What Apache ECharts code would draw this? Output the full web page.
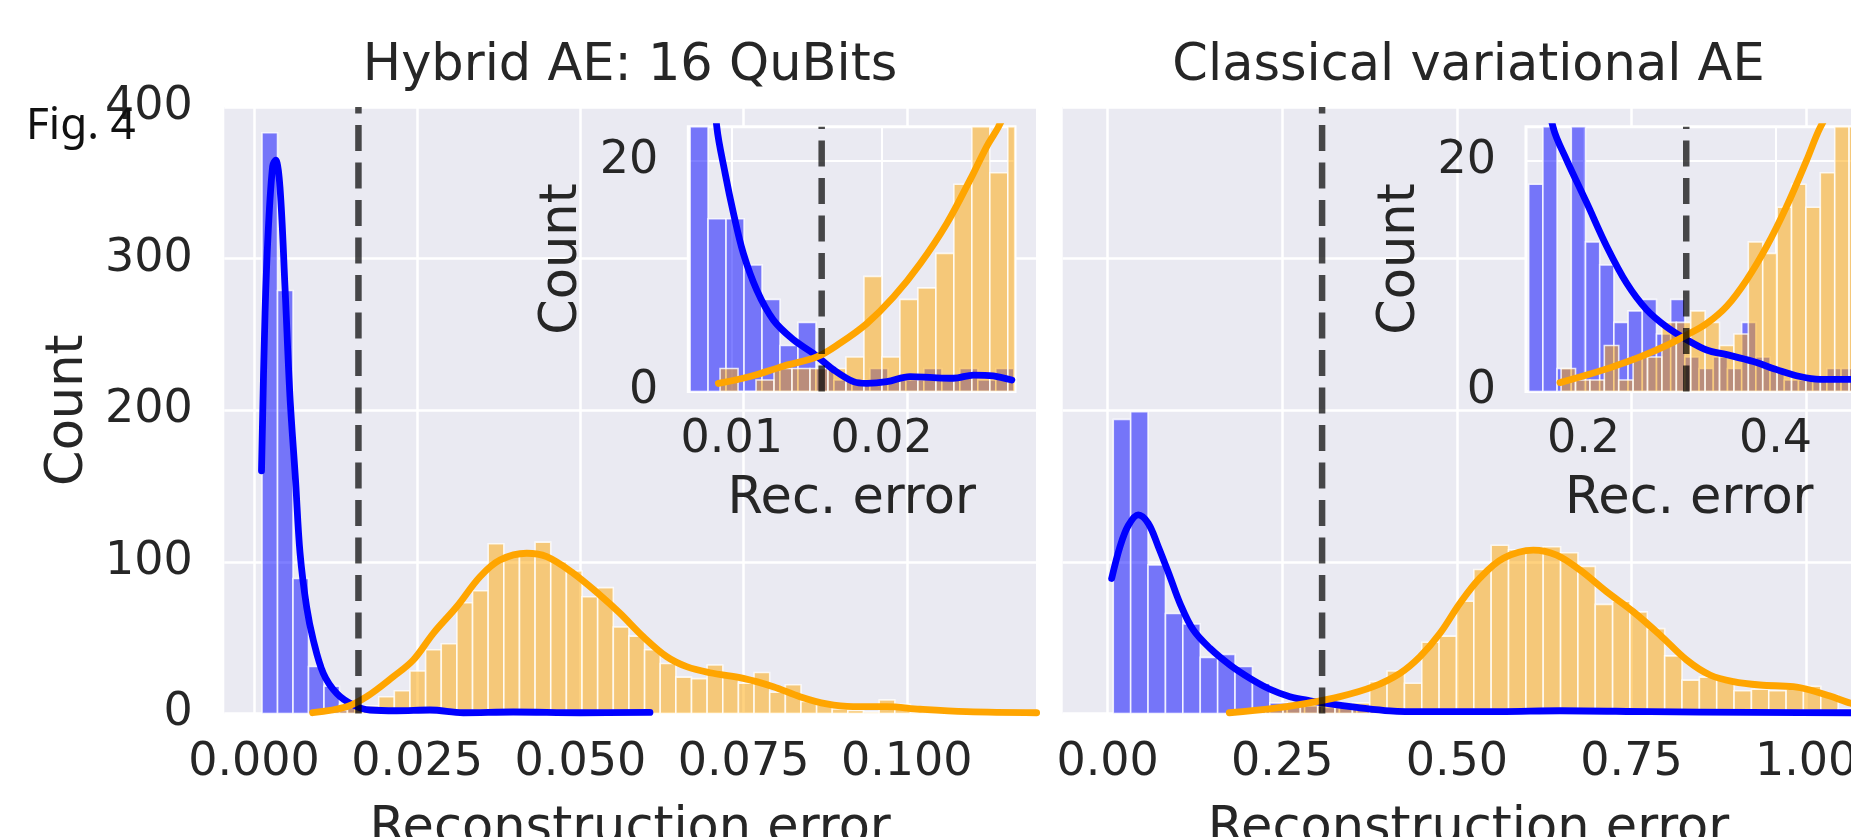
<!DOCTYPE html>
<html>
<head>
<meta charset="utf-8">
<script src="https://cdn.jsdelivr.net/npm/echarts@6.0.0/dist/echarts.min.js"></script>
<style>
  html, body { margin: 0; padding: 0; background: #fff; }
  #chart { width: 1851px; height: 837px; }
</style>
</head>
<body>
<div id="chart"></div>
<script>
// ---- data ----
// left panel: Hybrid AE, 16 QuBits
const hybridNormalStart = 0.00123, hybridNormalWidth = 0.002374;
const hybridNormalCounts = [383, 279, 89, 31, 18, 6, 3, 2, 3, 2, 2, 3, 2, 2, 1, 2, 1, 1, 2, 1, 1, 1, 0, 1, 1];
const hybridAnomStart = 0.00952, hybridAnomWidth = 0.002396;
const hybridAnomCounts = [2, 2, 4, 5, 11, 15, 28, 42, 46, 73, 81, 112, 104, 105, 113, 100, 94, 77, 83, 57, 51,
  42, 33, 24, 23, 32, 24, 20, 27, 14, 19, 8, 6, 3, 2, 1, 9, 6, 1, 1, 0, 0, 0, 1];
const hybridNormalKde = [[0.00115, 160], [0.00169, 264], [0.00219, 319], [0.00286, 361], [0.00332, 365],
  [0.00398, 347], [0.00475, 281], [0.00551, 209], [0.00636, 154], [0.00705, 106], [0.00807, 70],
  [0.00908, 48.5], [0.01062, 26.5], [0.01267, 13.3], [0.01521, 5.6], [0.01777, 2.3], [0.02186, 1.8],
  [0.02696, 2.3], [0.03206, 0.5], [0.03972, 1.0], [0.04994, 0.5], [0.06066, 0.7]];
const hybridAnomKde = [[0.00899, 0.5], [0.0142, 4.5], [0.01726, 11.1], [0.02134, 24.3], [0.0244, 35.3],
  [0.02747, 52.9], [0.03105, 70.4], [0.03462, 90.2], [0.03768, 101.2], [0.04177, 105.7], [0.04484, 103.4],
  [0.04891, 92.5], [0.053, 78.1], [0.05607, 66.1], [0.05964, 50.6], [0.06322, 37.5], [0.06628, 30.9],
  [0.06985, 26.9], [0.07496, 23.2], [0.07955, 17.7], [0.08364, 11.1], [0.08773, 6.3], [0.09181, 4.5],
  [0.09692, 4.5], [0.10202, 2.8], [0.10918, 1.2], [0.1199, 0.5]];
const hybridThreshold = 0.016;

// left inset
const hybridInsetNormalStart = 0.00722, hybridInsetNormalWidth = 0.0012;
const hybridInsetNormalCounts = [40, 15, 15, 11, 8, 4, 6, 2, 1, 1, 2, 1, 1, 2, 1, 2, 1, 2];
const hybridInsetAnomStart = 0.00922, hybridInsetAnomWidth = 0.0012;
const hybridInsetAnomCounts = [2, 0, 1, 2, 2, 2, 2, 3, 10, 3, 8, 9, 12, 18, 30, 19, 30];
const hybridInsetNormalKde = [[0.0078, 40], [0.009, 23], [0.00955, 19], [0.01011, 15.5], [0.01077, 12],
  [0.01167, 8.8], [0.01278, 6.2], [0.01411, 4.5], [0.01545, 3.3], [0.01678, 1.9], [0.01812, 0.85],
  [0.01901, 0.7], [0.02035, 0.85], [0.0219, 1.3], [0.02346, 1.2], [0.02479, 1.15], [0.02613, 1.43],
  [0.02746, 1.35], [0.02869, 1.0]];
const hybridInsetAnomKde = [[0.00911, 0.7], [0.01122, 1.3], [0.01344, 2.2], [0.01567, 3.0], [0.01723, 4.2],
  [0.01901, 5.9], [0.02079, 8.2], [0.02257, 11.1], [0.02435, 14.6], [0.02591, 18.4], [0.02702, 21.3],
  [0.0278, 23], [0.0289, 26]];

// right panel: Classical variational AE
const classicalNormalStart = 0.008, classicalNormalWidth = 0.02491;
const classicalNormalCounts = [194, 199, 98, 66, 59, 37, 39, 31, 20, 7, 6, 5, 4, 4, 3, 3, 2, 2, 2, 1, 2, 1,
  1, 1, 1, 1, 1, 1, 1, 1, 1, 0, 1, 1, 1, 0, 1, 1, 1, 0, 1, 1, 1, 1];
const classicalAnomStart = 0.1765, classicalAnomWidth = 0.02484;
const classicalAnomCounts = [2, 3, 4, 5, 6, 5, 6, 7, 21, 28, 20, 47, 51, 74, 95, 111, 108, 108, 110, 106, 97,
  72, 74, 67, 56, 38, 22, 24, 22, 15, 16, 15, 16, 18, 12, 3, 2, 1];
const classicalNormalKde = [[0.0057, 89], [0.0176, 110], [0.0295, 124], [0.0438, 131], [0.0581, 125.4],
  [0.0725, 110], [0.0892, 90.2], [0.1035, 72.7], [0.1226, 55.1], [0.1465, 43], [0.1751, 32], [0.2038, 23.2],
  [0.2324, 16], [0.261, 11.1], [0.2897, 8.4], [0.3183, 6.3], [0.3565, 4.1], [0.4042, 1.8], [0.4519, 1.2],
  [0.5617, 1.2], [0.6476, 1.8], [0.7765, 1.2], [0.9197, 0.7], [1.0643, 0.5], [1.0978, 0.5]];
const classicalAnomKde = [[0.1741, 0.5], [0.2371, 3.4], [0.2849, 6.7], [0.3326, 11.1], [0.3803, 17.7],
  [0.4185, 26.5], [0.4472, 37.5], [0.4758, 52.9], [0.5044, 72.7], [0.5331, 89.4], [0.5665, 102.4],
  [0.6094, 107.8], [0.6429, 104.5], [0.6763, 94.6], [0.7145, 80.3], [0.7526, 67.1], [0.7908, 51.8],
  [0.829, 35.3], [0.8624, 25.4], [0.8958, 21], [0.934, 18.8], [0.9817, 17.7], [1.0056, 15.5], [1.0342, 11.5],
  [1.0643, 6.7], [1.0972, 3]];
const classicalThreshold = 0.307;

// right inset
const classicalInsetNormalStart = 0.14292, classicalInsetNormalWidth = 0.01479;
const classicalInsetNormalCounts = [18, 26, 2, 25, 13, 11, 6, 7, 8, 5, 8, 3, 2, 3, 2, 6, 3, 2, 1, 1, 1, 2, 2];
const classicalInsetAnomStart = 0.17667, classicalInsetAnomWidth = 0.015;
const classicalInsetAnomCounts = [2, 1, 1, 4, 1, 3, 3, 6, 6, 7, 6, 4, 5, 13, 12, 16, 18, 16, 19, 26, 30];
const classicalInsetNormalKde = [[0.145, 32], [0.1685, 22.9], [0.1825, 20.1], [0.2033, 16.4], [0.2242, 12.6],
  [0.245, 9.4], [0.2658, 7.1], [0.2867, 5.6], [0.3075, 4.5], [0.3283, 3.6], [0.3492, 3.2], [0.3769, 2.6],
  [0.4013, 1.9], [0.4255, 1.3], [0.4464, 1.06], [0.4786, 1.06]];
const classicalInsetAnomKde = [[0.1755, 0.77], [0.2033, 1.43], [0.231, 2.16], [0.2589, 3.0], [0.2867, 4.0],
  [0.3075, 4.9], [0.3283, 5.9], [0.3492, 7.4], [0.37, 9.7], [0.3908, 12.6], [0.4117, 16.1], [0.4325, 20.1],
  [0.4464, 22.9], [0.4672, 26]];

// tick labels
const hybridTicks = [0, 0.025, 0.05, 0.075, 0.1];
const classicalTicks = [0, 0.25, 0.5, 0.75, 1.0];
const hybridInsetTicks = [0.01, 0.02];
const classicalInsetTicks = [0.2, 0.4];
const insetCountTicks = [0, 20];

// ---- styling ----
const FONT = 'DejaVu Sans';
const TEXT = '#262626';
const BG = '#EAEAF2';
const BLUE = '#0000FF', ORANGE = '#FFA500';
const BLUE_FILL = 'rgba(0,0,255,0.5)', ORANGE_FILL = 'rgba(255,165,0,0.5)';

const chart = echarts.init(document.getElementById('chart'));

function bins(start, width, counts) {
  return counts.map(function (c, i) { return [start + i * width, start + (i + 1) * width, c]; });
}

function histSeries(idx, data, fill, z) {
  return {
    type: 'custom', xAxisIndex: idx, yAxisIndex: idx, z: z, silent: true, data: data,
    renderItem: function (params, api) {
      const p0 = api.coord([api.value(0), 0]);
      const p1 = api.coord([api.value(1), api.value(2)]);
      const rect = echarts.graphic.clipRectByRect({
        x: p0[0], y: p1[1], width: p1[0] - p0[0], height: p0[1] - p1[1]
      }, params.coordSys);
      if (!rect) return;
      return { type: 'rect', shape: rect, style: { fill: fill, stroke: 'rgba(255,255,255,0.8)', lineWidth: 1.6 } };
    }
  };
}

function kdeSeries(idx, data, color, z) {
  return {
    type: 'line', xAxisIndex: idx, yAxisIndex: idx, z: z, data: data, smooth: 0.35,
    symbol: 'none', silent: true, clip: true,
    lineStyle: { color: color, width: 6.8, cap: 'round', join: 'round' }
  };
}

function thresholdSeries(idx, x, top, z) {
  return {
    type: 'line', xAxisIndex: idx, yAxisIndex: idx, z: z, data: [[x, 0], [x, top]],
    symbol: 'none', silent: true,
    lineStyle: { color: 'rgba(0,0,0,0.7)', width: 6.5, type: [26, 11.5] }
  };
}

function xAxisCfg(idx, min, max, ticks, digits, name, z, lineW, margin, gap) {
  return {
    type: 'value', gridIndex: idx, min: min, max: max, z: z,
    axisLine: { show: false },
    axisTick: { show: false, customValues: ticks },
    axisLabel: {
      customValues: ticks, margin: margin, fontSize: 46, color: TEXT, fontFamily: FONT,
      formatter: function (v) { return v.toFixed(digits); }
    },
    splitLine: { show: true, lineStyle: { color: '#fff', width: lineW } },
    name: name, nameLocation: 'middle', nameGap: gap, nameMoveOverlap: false,
    nameTextStyle: { fontSize: 51, color: TEXT, fontFamily: FONT }
  };
}

const labelStyle = { fontSize: 46, color: TEXT, fontFamily: FONT };

const option = {
  animation: false,
  backgroundColor: '#fff',
  grid: [
    { left: 224.3, top: 107, width: 811.7, height: 606.5, show: true, backgroundColor: BG, borderWidth: 0, outerBoundsMode: 'none' },
    { left: 1062.7, top: 107, width: 811.7, height: 606.5, show: true, backgroundColor: BG, borderWidth: 0, outerBoundsMode: 'none' },
    { left: 688.3, top: 126.7, width: 326.7, height: 264.8, show: true, backgroundColor: BG, borderColor: '#fff', borderWidth: 3, z: 10, outerBoundsMode: 'none' },
    { left: 1526, top: 126.7, width: 326.7, height: 264.8, show: true, backgroundColor: BG, borderColor: '#fff', borderWidth: 3, z: 10, outerBoundsMode: 'none' }
  ],
  xAxis: [
    xAxisCfg(0, -0.00455, 0.1198, hybridTicks, 3, 'Reconstruction error', 0, 2.5, 27, 91),
    xAxisCfg(1, -0.0644, 1.0978, classicalTicks, 2, 'Reconstruction error', 0, 2.5, 27, 91),
    xAxisCfg(2, 0.0071, 0.0289, hybridInsetTicks, 2, 'Rec. error', 11, 2, 25.5, 82.5),
    xAxisCfg(3, 0.1401, 0.4804, classicalInsetTicks, 1, 'Rec. error', 11, 2, 25.5, 82.5)
  ],
  yAxis: [
    {
      type: 'value', gridIndex: 0, min: 0, max: 400, interval: 100,
      axisLine: { show: false }, axisTick: { show: false },
      axisLabel: Object.assign({ margin: 31.5 }, labelStyle),
      splitLine: { show: true, lineStyle: { color: '#fff', width: 2.5 } },
      name: 'Count', nameLocation: 'middle', nameGap: 130, nameMoveOverlap: false,
      nameTextStyle: { fontSize: 51, color: TEXT, fontFamily: FONT }
    },
    {
      type: 'value', gridIndex: 1, min: 0, max: 400, interval: 100,
      axisLine: { show: false }, axisTick: { show: false }, axisLabel: { show: false },
      splitLine: { show: true, lineStyle: { color: '#fff', width: 2.5 } }
    },
    {
      type: 'value', gridIndex: 2, min: 0, max: 23, z: 11,
      axisLine: { show: false }, axisTick: { show: false, customValues: insetCountTicks },
      axisLabel: Object.assign({ margin: 30, customValues: insetCountTicks }, labelStyle),
      splitLine: { show: true, lineStyle: { color: '#fff', width: 2 } },
      name: 'Count', nameLocation: 'middle', nameGap: 100, nameMoveOverlap: false,
      nameTextStyle: { fontSize: 51, color: TEXT, fontFamily: FONT }
    },
    {
      type: 'value', gridIndex: 3, min: 0, max: 23, z: 11,
      axisLine: { show: false }, axisTick: { show: false, customValues: insetCountTicks },
      axisLabel: Object.assign({ margin: 30, customValues: insetCountTicks }, labelStyle),
      splitLine: { show: true, lineStyle: { color: '#fff', width: 2 } },
      name: 'Count', nameLocation: 'middle', nameGap: 100, nameMoveOverlap: false,
      nameTextStyle: { fontSize: 51, color: TEXT, fontFamily: FONT }
    }
  ],
  graphic: [
    { type: 'text', x: 630, y: 67, z: 20, style: { text: 'Hybrid AE: 16 QuBits', fontSize: 51, fontFamily: FONT, fill: TEXT, align: 'center', verticalAlign: 'middle' } },
    { type: 'text', x: 1468.5, y: 67, z: 20, style: { text: 'Classical variational AE', fontSize: 51, fontFamily: FONT, fill: TEXT, align: 'center', verticalAlign: 'middle' } },
    { type: 'text', x: 26, y: 126, z: 20, style: { text: 'Fig. 4', fontSize: 44, fontFamily: 'Noto Sans', fill: '#111', align: 'left', verticalAlign: 'middle' } }
  ],
  series: [
    // main left
    histSeries(0, bins(hybridNormalStart, hybridNormalWidth, hybridNormalCounts), BLUE_FILL, 2),
    histSeries(0, bins(hybridAnomStart, hybridAnomWidth, hybridAnomCounts), ORANGE_FILL, 3),
    kdeSeries(0, hybridNormalKde, BLUE, 4),
    kdeSeries(0, hybridAnomKde, ORANGE, 5),
    thresholdSeries(0, hybridThreshold, 400, 6),
    // main right
    histSeries(1, bins(classicalNormalStart, classicalNormalWidth, classicalNormalCounts), BLUE_FILL, 2),
    histSeries(1, bins(classicalAnomStart, classicalAnomWidth, classicalAnomCounts), ORANGE_FILL, 3),
    kdeSeries(1, classicalNormalKde, BLUE, 4),
    kdeSeries(1, classicalAnomKde, ORANGE, 5),
    thresholdSeries(1, classicalThreshold, 400, 6),
    // left inset
    histSeries(2, bins(hybridInsetNormalStart, hybridInsetNormalWidth, hybridInsetNormalCounts), BLUE_FILL, 12),
    histSeries(2, bins(hybridInsetAnomStart, hybridInsetAnomWidth, hybridInsetAnomCounts), ORANGE_FILL, 13),
    kdeSeries(2, hybridInsetNormalKde, BLUE, 14),
    kdeSeries(2, hybridInsetAnomKde, ORANGE, 15),
    thresholdSeries(2, hybridThreshold, 23, 16),
    // right inset
    histSeries(3, bins(classicalInsetNormalStart, classicalInsetNormalWidth, classicalInsetNormalCounts), BLUE_FILL, 12),
    histSeries(3, bins(classicalInsetAnomStart, classicalInsetAnomWidth, classicalInsetAnomCounts), ORANGE_FILL, 13),
    kdeSeries(3, classicalInsetNormalKde, BLUE, 14),
    kdeSeries(3, classicalInsetAnomKde, ORANGE, 15),
    thresholdSeries(3, classicalThreshold, 23, 16)
  ]
};

chart.setOption(option);
</script>
</body>
</html>
